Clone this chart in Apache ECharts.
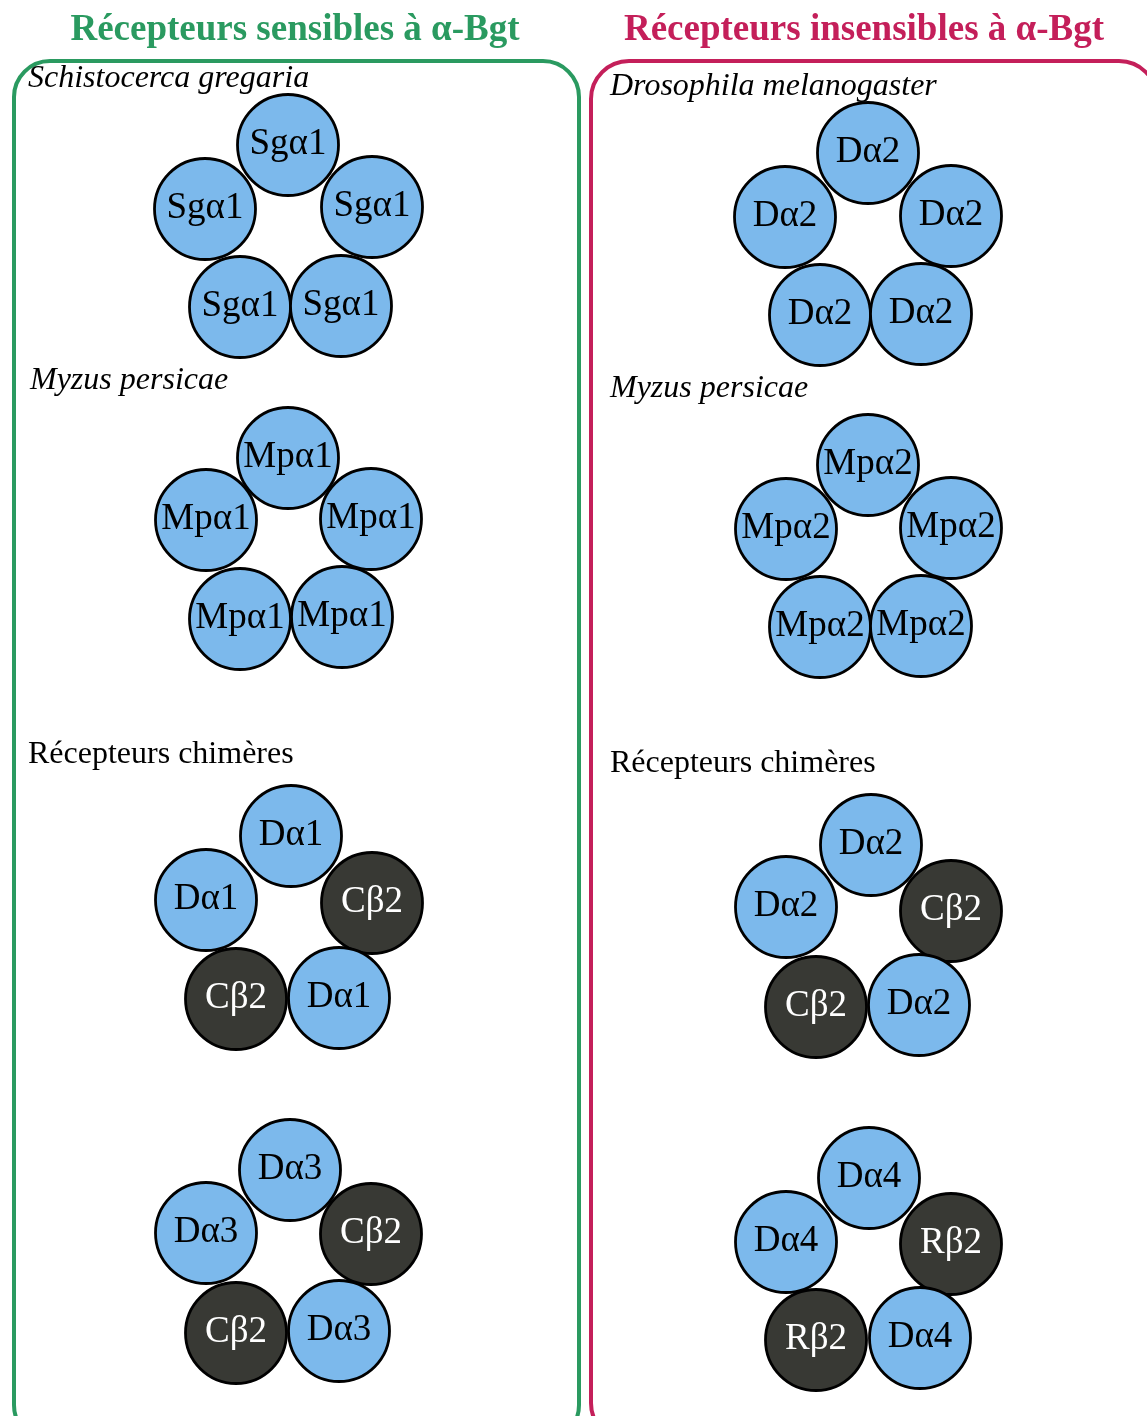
<!DOCTYPE html>
<html>
<head>
<meta charset="utf-8">
<script src="https://cdn.jsdelivr.net/npm/echarts@6/dist/echarts.min.js"></script>
<style>
html,body{margin:0;padding:0;background:#fff;}
#chart{width:1147px;height:1416px;}
</style>
</head>
<body>
<div id="chart"></div>
<script>
// Panel titles
const panelTitles = ['Récepteurs sensibles à α-Bgt', 'Récepteurs insensibles à α-Bgt'];
// Section headings (text, x, y, italic)
const sectionText = ['Schistocerca gregaria', 'Myzus persicae', 'Récepteurs chimères',
                     'Drosophila melanogaster', 'Myzus persicae', 'Récepteurs chimères'];
const sectionX = [28, 30, 28, 610, 610, 610];
const sectionY = [79, 381, 755, 87, 389, 764];
const sectionItalic = [true, true, false, true, true, false];

// Subunits: each pentamer listed top, left, right, bottom-left, bottom-right
const subunitLabels = [
  'Sgα1','Sgα1','Sgα1','Sgα1','Sgα1',
  'Mpα1','Mpα1','Mpα1','Mpα1','Mpα1',
  'Dα1','Dα1','Cβ2','Cβ2','Dα1',
  'Dα3','Dα3','Cβ2','Cβ2','Dα3',
  'Dα2','Dα2','Dα2','Dα2','Dα2',
  'Mpα2','Mpα2','Mpα2','Mpα2','Mpα2',
  'Dα2','Dα2','Cβ2','Cβ2','Dα2',
  'Dα4','Dα4','Rβ2','Rβ2','Dα4'
];
const subunitX = [
  288,205,372,240,341,
  288,206,371,240,342,
  291,206,372,236,339,
  290,206,371,236,339,
  868,785,951,820,921,
  868,786,951,820,921,
  871,786,951,816,919,
  869,786,951,816,920
];
const subunitY = [
  145,209,207,307,306,
  458,520,519,619,617,
  836,900,903,999,998,
  1170,1233,1234,1333,1331,
  153,217,216,315,314,
  465,529,528,627,626,
  845,907,911,1007,1005,
  1178,1242,1244,1340,1338
];
const subunitKind = subunitLabels.map(s => s.indexOf('β') >= 0 ? 'beta' : 'alpha');

const W = 1147, H = 1416;
const GREEN = '#2a9a60', PINK = '#c41f5a', BLUE = '#7cb9ec', DARK = '#383934';
const SERIF = '"Liberation Serif", "Times New Roman", serif';

const chart = echarts.init(document.getElementById('chart'), null, {renderer: 'canvas'});

const data = subunitLabels.map((name, i) => ({
  name: name,
  value: [subunitX[i], subunitY[i]],
  itemStyle: { color: subunitKind[i] === 'beta' ? DARK : BLUE },
  label: { color: subunitKind[i] === 'beta' ? '#ffffff' : '#000000' }
}));

const graphics = [
  { type: 'rect', shape: {x: 14, y: 61, width: 565, height: 1380, r: 36},
    style: {fill: 'none', stroke: GREEN, lineWidth: 4}, z: 0 },
  { type: 'rect', shape: {x: 591, y: 61, width: 566, height: 1380, r: 38},
    style: {fill: 'none', stroke: PINK, lineWidth: 4}, z: 0 },
  { type: 'text', x: 295, y: 30, style: { text: panelTitles[0], font: 'bold 37px ' + SERIF,
    fill: GREEN, align: 'center', verticalAlign: 'middle' } },
  { type: 'text', x: 864, y: 30, style: { text: panelTitles[1], font: 'bold 37px ' + SERIF,
    fill: PINK, align: 'center', verticalAlign: 'middle' } }
];
sectionText.forEach((t, i) => {
  graphics.push({ type: 'text', x: sectionX[i], y: sectionY[i],
    style: { text: t, font: (sectionItalic[i] ? 'italic ' : '') + '32px ' + SERIF,
      fill: '#000', align: 'left', verticalAlign: 'middle' } });
});

chart.setOption({
  animation: false,
  backgroundColor: '#ffffff',
  grid: {left: 0, right: 0, top: 0, bottom: 0},
  xAxis: {type: 'value', min: 0, max: W, show: false},
  yAxis: {type: 'value', min: 0, max: H, inverse: true, show: false},
  graphic: graphics,
  series: [{
    type: 'scatter',
    symbol: 'circle',
    symbolSize: 101,
    data: data,
    itemStyle: { borderColor: '#000', borderWidth: 2.8, opacity: 1 },
    label: {
      show: true, position: 'inside', offset: [0, -1],
      formatter: p => p.name,
      fontFamily: SERIF, fontSize: 37
    },
    emphasis: {disabled: true},
    z: 2
  }]
});
</script>
</body>
</html>
